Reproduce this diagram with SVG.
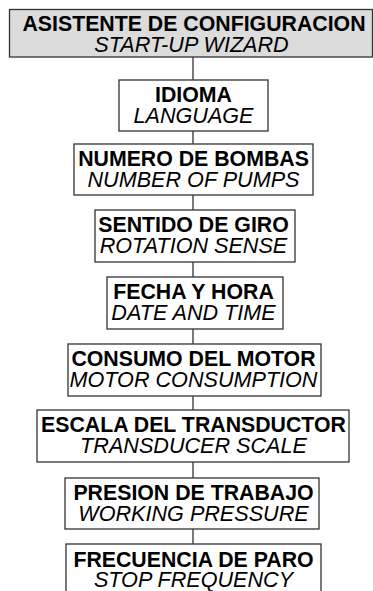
<svg xmlns="http://www.w3.org/2000/svg" width="373" height="591" viewBox="0 0 373 591">
<style>
.box{fill:#ffffff;stroke:#333333;stroke-width:1.3}
.top{fill:#dcdcdc}
.con{stroke:#333333;stroke-width:1.3;fill:none}
text{font-family:"Liberation Sans",Arial,sans-serif;text-anchor:middle;fill:#000000}
.b{font-weight:bold;font-size:21.3px}
.i{font-style:italic;font-size:21.6px}
</style>
<rect width="373" height="591" fill="#ffffff"/>
<g id="connectors">
<line class="con" x1="193" y1="57" x2="193" y2="80"/>
<line class="con" x1="193" y1="131" x2="193" y2="144"/>
<line class="con" x1="193" y1="195" x2="193" y2="210"/>
<line class="con" x1="193" y1="262" x2="193" y2="277"/>
<line class="con" x1="193" y1="329" x2="193" y2="344"/>
<line class="con" x1="193" y1="396" x2="193" y2="410"/>
<line class="con" x1="193" y1="462" x2="193" y2="478"/>
<line class="con" x1="193" y1="529" x2="193" y2="544"/>
</g>
<g id="start">
<rect class="box top" x="9.5" y="9.5" width="363" height="47.5"/>
<text class="b" x="194" y="31">ASISTENTE DE CONFIGURACION</text>
<text class="i" x="191.5" y="52">START-UP WIZARD</text>
</g>
<g id="idioma">
<rect class="box" x="119" y="80" width="149" height="51"/>
<text class="b" x="193.5" y="102">IDIOMA</text>
<text class="i" x="193.5" y="123">LANGUAGE</text>
</g>
<g id="bombas">
<rect class="box" x="74" y="144" width="239" height="51"/>
<text class="b" x="193.5" y="166">NUMERO DE BOMBAS</text>
<text class="i" x="193.5" y="187">NUMBER OF PUMPS</text>
</g>
<g id="giro">
<rect class="box" x="95" y="210" width="200" height="52"/>
<text class="b" x="193.5" y="232">SENTIDO DE GIRO</text>
<text class="i" x="193.5" y="253">ROTATION SENSE</text>
</g>
<g id="fecha">
<rect class="box" x="107" y="277" width="176" height="52"/>
<text class="b" x="193.5" y="299">FECHA Y HORA</text>
<text class="i" x="193.5" y="320">DATE AND TIME</text>
</g>
<g id="consumo">
<rect class="box" x="68" y="344" width="253" height="52"/>
<text class="b" x="193.5" y="366">CONSUMO DEL MOTOR</text>
<text class="i" x="193.5" y="387">MOTOR CONSUMPTION</text>
</g>
<g id="escala">
<rect class="box" x="37" y="410" width="312" height="52"/>
<text class="b" x="193.5" y="432">ESCALA DEL TRANSDUCTOR</text>
<text class="i" x="193.5" y="453">TRANSDUCER SCALE</text>
</g>
<g id="presion">
<rect class="box" x="65" y="478" width="254" height="51"/>
<text class="b" x="193.5" y="500">PRESION DE TRABAJO</text>
<text class="i" x="193.5" y="521">WORKING PRESSURE</text>
</g>
<g id="frecuencia">
<rect class="box" x="66" y="544" width="255" height="52"/>
<text class="b" x="193.5" y="566.5">FRECUENCIA DE PARO</text>
<text class="i" x="193.5" y="587">STOP FREQUENCY</text>
</g>
</svg>
